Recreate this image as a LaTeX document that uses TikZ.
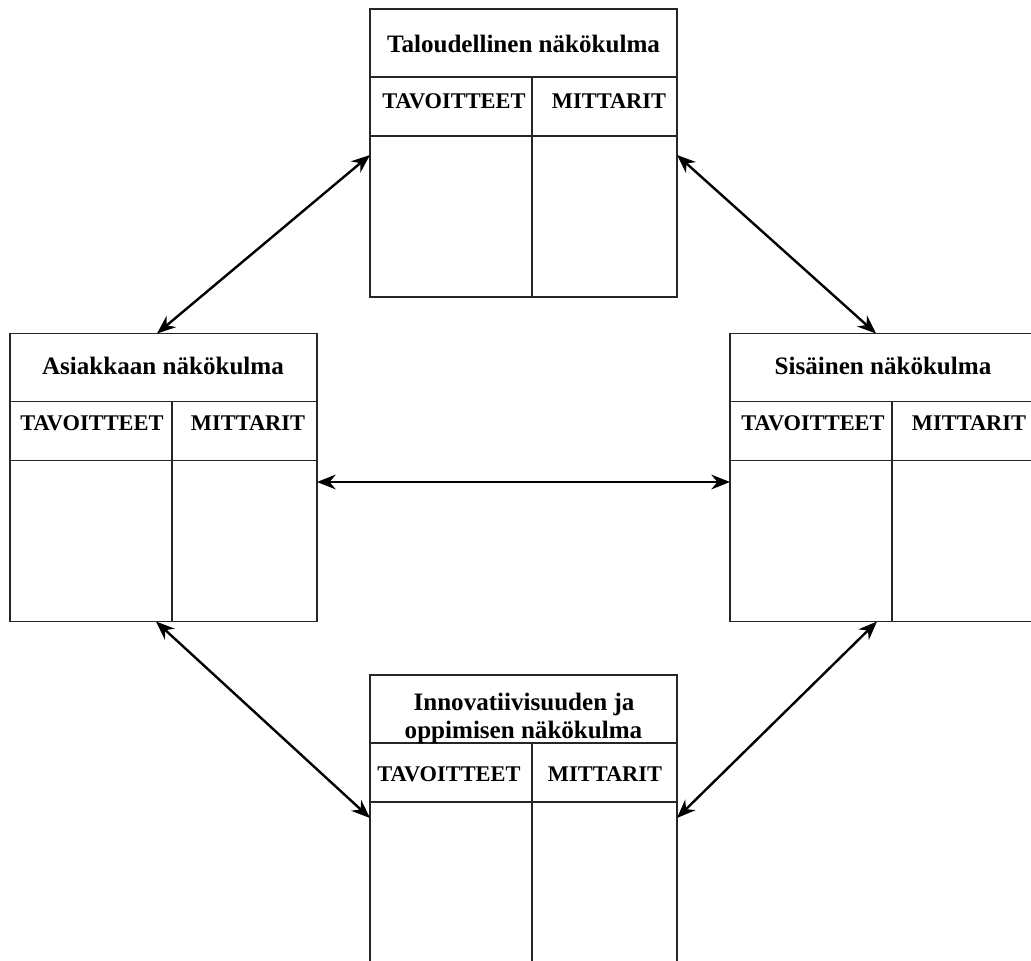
\documentclass[tikz,border=0pt]{standalone}
\usepackage{fontspec}
\setmainfont{Liberation Serif}
\usetikzlibrary{arrows.meta,calc}
\newcommand\kpanel[6]{%
  \node[frame] (#1) at (#2,#3) {};
  \coordinate (#1h1) at ($(#1.north west)+(0,68)$);
  \coordinate (#1h2) at ($(#1.north east)+(0,68)$);
  \coordinate (#1r1) at ($(#1.north west)+(0,127)$);
  \coordinate (#1r2) at ($(#1.north east)+(0,127)$);
  \coordinate (#1c1) at ($(#1.north west)+(162,68)$);
  \coordinate (#1c2) at ($(#1.south west)+(162,0)$);
  \draw[rule] (#1h1) -- (#1h2) (#1r1) -- (#1r2) (#1c1) -- (#1c2);
  \node[hdr] (#1tav) at ($(#1.north west)+(#5,#4)$) {TAVOITTEET};
  \node[hdr] (#1mit) at ($(#1.north west)+(#6,#4)$) {MITTARIT};
}
\begin{document}
\begin{tikzpicture}[x=0.75pt,y=-0.75pt,
  frame/.style={draw=black!85,line width=1.3pt,minimum width=230.25pt,minimum height=216pt,inner sep=0pt,outer sep=0pt},
  rule/.style={draw=black!85,line width=1.3pt},
  ttl/.style={font=\bfseries\fontsize{18.8}{22}\selectfont,anchor=base,inner sep=0pt},
  hdr/.style={font=\bfseries\fontsize{16.8}{20}\selectfont,anchor=base,inner sep=0pt},
  link/.style={line width=1.8pt,{Stealth[length=14pt,width=11pt,inset=4.5pt]}-{Stealth[length=14pt,width=11pt,inset=4.5pt]}}]
\useasboundingbox (0,0) rectangle (1031,960);
\clip (0,0) rectangle (1031,960);
\fill[white] (0,0) rectangle (1031,960);

\kpanel{T}{523.5}{153}{99}{84}{239}
\kpanel{L}{163.5}{477.5}{97}{82}{238}
\kpanel{R}{883.5}{477.5}{97}{83}{239}
\kpanel{B}{523.5}{819}{106}{79}{235}

\node[ttl] (Tt) at ($(T.north west)+(153.5,43)$) {Taloudellinen näkökulma};
\node[ttl] (Lt) at ($(L.north west)+(153,41)$) {Asiakkaan näkökulma};
\node[ttl] (Rt) at ($(R.north west)+(153,41)$) {Sisäinen näkökulma};
\node[ttl] (Bt1) at ($(B.north west)+(154,35)$) {Innovatiivisuuden ja};
\node[ttl] (Bt2) at ($(B.north west)+(153.5,63)$) {oppimisen näkökulma};

\draw[link] ($(L.north)+(-6.5,0)$) -- ($(T.north west)+(0,146)$);
\draw[link] ($(T.north east)+(0,146)$) -- ($(R.north)+(-7.5,0)$);
\draw[link] ($(L.east)+(0,4.5)$) -- ($(R.west)+(0,4.5)$);
\draw[link] ($(L.south)+(-7.5,0)$) -- ($(B.north west)+(0,143)$);
\draw[link] ($(R.south)+(-6.5,0)$) -- ($(B.north east)+(0,143)$);
\end{tikzpicture}
\end{document}
